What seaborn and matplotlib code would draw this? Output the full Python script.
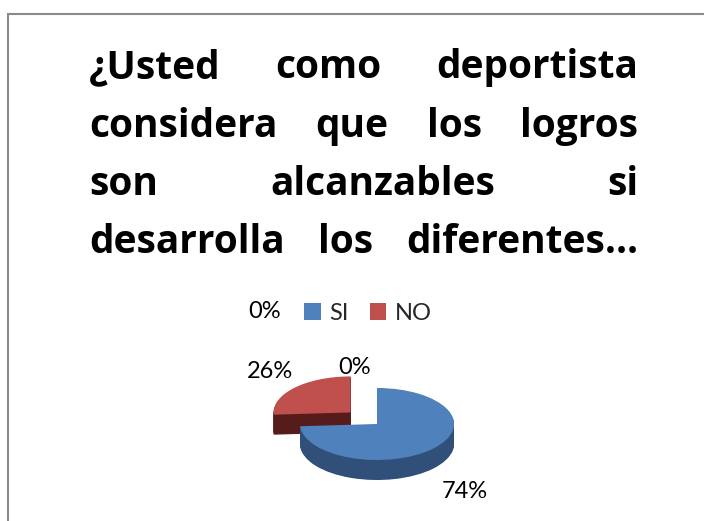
import numpy as np
import matplotlib
matplotlib.use('Agg')
import matplotlib.pyplot as plt
import matplotlib.patches as mpatches
import seaborn as sns

# ---------------- data ----------------
categories = ['SI', 'NO']
values = [74, 26]
pct_labels = ['74%', '26%']
zero_labels = ['0%', '0%']
title_lines = [
    ['¿Usted', 'como', 'deportista'],
    ['considera', 'que', 'los', 'logros'],
    ['son', 'alcanzables', 'si'],
    ['desarrolla', 'los', 'diferentes…'],
]

sns.set_theme(style='white')
plt.rcParams['font.family'] = ['Lato', 'DejaVu Sans']

W, H = 704, 521
fig = plt.figure(figsize=(W / 100, H / 100), dpi=100)
fig.patch.set_facecolor('white')


def fx(px):
    return px / W


def fy(py):
    return 1 - py / H


# chart border (cropped on the right and bottom)
fig.add_artist(mpatches.Rectangle((fx(8), -0.1), 1.2, fy(14) + 0.1, fill=False,
                                  edgecolor='#8a8a8a', lw=1.5,
                                  transform=fig.transFigure))

# ---------------- justified bold title ----------------
left, right = 89, 638
baselines = [78, 137, 195, 253]
renderer = fig.canvas.get_renderer()
for words, yb in zip(title_lines, baselines):
    texts = [fig.text(0, fy(yb), w, fontsize=28, fontweight='bold',
                      family=['Open Sans', 'DejaVu Sans'],
                      va='baseline', ha='left', color='black') for w in words]
    widths = [t.get_window_extent(renderer).width for t in texts]
    gap = (right - left - sum(widths)) / (len(words) - 1)
    x = left
    for t, w in zip(texts, widths):
        t.set_x(fx(x))
        x += w + gap

# ---------------- 3D-looking pie ----------------
cx, cy = 377, 424
rx, ry = 77, 36
depth = 20
ax_w, ax_h = 300, 160
ax = fig.add_axes([fx(cx - ax_w / 2), fy(cy + ax_h / 2), ax_w / W, ax_h / H])

colors_top = ['#4F81BD', '#C0504D']
colors_side = ['#30507A', '#561C1B']
explode = [0, 0.47]
n_layers = 30
dd = depth / ry
layer_offsets = np.linspace(dd, 0, n_layers, endpoint=False)
common = dict(explode=explode, startangle=90, counterclock=False,
              wedgeprops=dict(linewidth=0))

# red slice (behind): sides then top
for k in layer_offsets:
    ax.pie(values, colors=['none', colors_side[1]], center=(0, -k), **common)
ax.pie(values, colors=['none', colors_top[1]], center=(0, 0), **common)
# blue slice (front): sides then top
for k in layer_offsets:
    ax.pie(values, colors=[colors_side[0], 'none'], center=(0, -k), **common)
ax.pie(values, colors=[colors_top[0], 'none'], center=(0, 0), **common)

ax.set_aspect('auto')
ax.set_xlim(-ax_w / 2 / rx, ax_w / 2 / rx)
ax.set_ylim(-ax_h / 2 / ry, ax_h / 2 / ry)
ax.axis('off')

# ---------------- labels ----------------
lab = dict(fontsize=17, ha='center', va='center', color='black')
fig.text(fx(465), fy(492), pct_labels[0], **lab)
fig.text(fx(270), fy(371), pct_labels[1], **lab)
fig.text(fx(355), fy(368), zero_labels[0], **lab)
fig.text(fx(265), fy(312), zero_labels[1], **lab)

# ---------------- legend ----------------
handles = [mpatches.Patch(facecolor=c, edgecolor='none') for c in colors_top]
fig.legend(handles, categories, loc='center', bbox_to_anchor=(fx(368), fy(313)),
           ncol=2, frameon=False, fontsize=17, handlelength=0.7,
           handleheight=0.7, handletextpad=0.35, columnspacing=0.9,
           borderpad=0, borderaxespad=0)

fig.savefig('out.png', dpi=100)
